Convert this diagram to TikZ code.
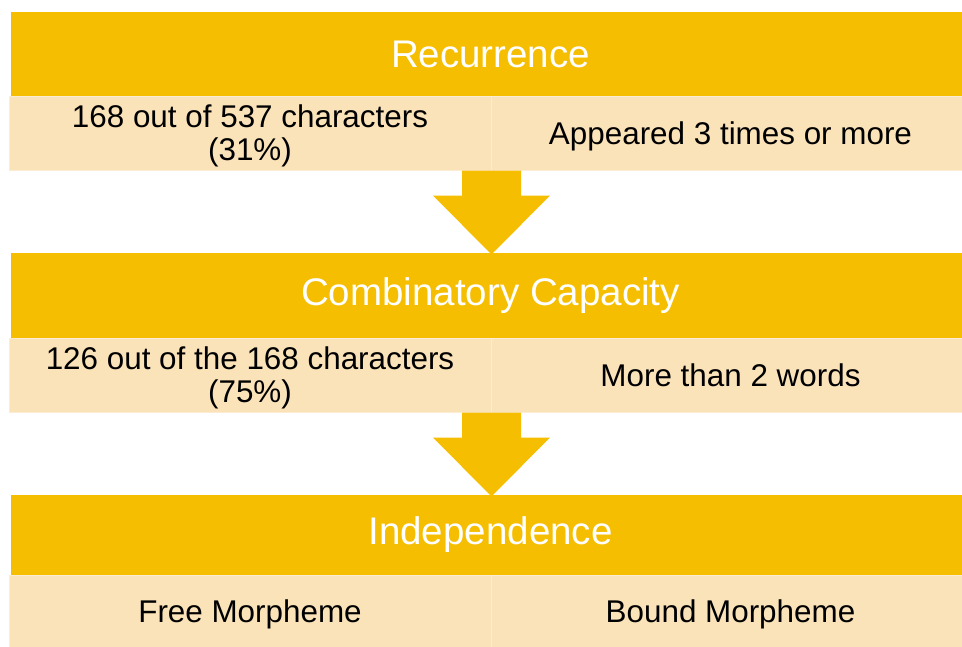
\documentclass[tikz,border=0pt]{standalone}
\usepackage{fontspec}
\setmainfont{Liberation Sans}
\definecolor{gold}{RGB}{245,190,0}
\definecolor{sand}{RGB}{250,226,185}
\definecolor{sandline}{RGB}{252,236,212}
\tikzset{
  header/.style={fill=gold, text=white, minimum width=959pt, inner sep=0pt,
    font=\fontsize{38.5}{40}\selectfont},
  cell/.style={fill=sand, draw=sandline, line width=1pt, inner sep=0pt,
    text depth=0pt, align=center, font=\fontsize{31.4}{33}\selectfont},
}
\begin{document}
\begin{tikzpicture}[x=1pt, y=-1pt]
            \useasboundingbox (0,0) rectangle (962,646);

            % Ebene 1
            \node[header, minimum height=84pt] (rec) at (490.5,54) {Recurrence};
            \node[cell, minimum width=482pt, minimum height=74pt] (l1) at (250,133)
                {168 out of 537 characters\\(31\%)};
            \node[cell, minimum width=479pt, minimum height=74pt] (r1) at (730.5,133)
                {Appeared 3 times or more};

            % Ebene 2
            \node[header, minimum height=85pt] (comb) at (490.5,295.5) {Combinatory Capacity};
            \node[cell, minimum width=482pt, minimum height=74pt] (l2) at (250,375)
                {126 out of the 168 characters\\(75\%)};
            \node[cell, minimum width=479pt, minimum height=74pt] (r2) at (730.5,375)
                {More than 2 words};

            % Ebene 3
            \node[header, minimum height=80pt] (indep) at (490.5,535) {Independence};
            \node[cell, minimum width=482pt, minimum height=73pt] (l3) at (250,611.5)
                {Free Morpheme};
            \node[cell, minimum width=479pt, minimum height=73pt] (r3) at (730.5,611.5)
                {Bound Morpheme};

            % Pfeile
            \foreach \src in {l1, l2} {
                \begin{scope}[shift={(\src.south east)}]
                    \fill[gold] (-29.5,0) -- (-29.5,25) -- (-58.5,25) -- (0,84)
                        -- (58.5,25) -- (29.5,25) -- (29.5,0) -- cycle;
                \end{scope}
            }
\end{tikzpicture}
\end{document}
